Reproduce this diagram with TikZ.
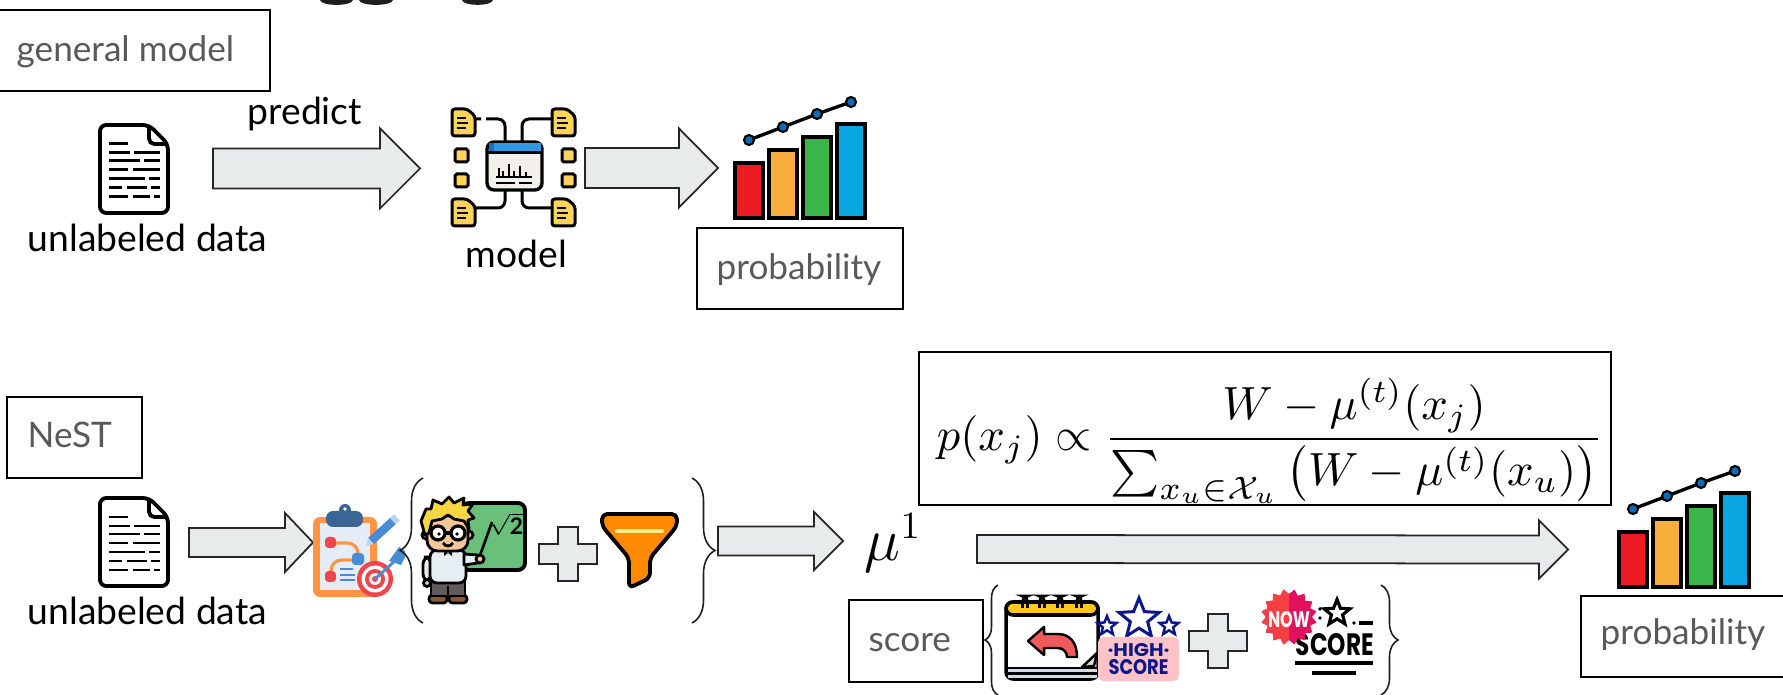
\documentclass[tikz,border=0pt]{standalone}
\usepackage{fontspec}
\setmainfont{Lato}
\newfontfamily\badgefont{Poppins}
\usepackage{amsmath}
\usepackage{graphicx}
\usetikzlibrary{calc,decorations.pathreplacing,shapes.geometric}

\definecolor{arrowfill}{HTML}{E8EBEB}
\definecolor{arrowline}{HTML}{262626}
\definecolor{tagtext}{HTML}{595959}
\definecolor{barred}{HTML}{ED1C24}
\definecolor{barorange}{HTML}{F8AE3C}
\definecolor{bargreen}{HTML}{3AB54A}
\definecolor{barblue}{HTML}{09A6E2}
\definecolor{dotblue}{HTML}{0B6DB7}
\definecolor{docyellow}{HTML}{FFD25A}
\definecolor{winblue}{HTML}{2E9BE6}
\definecolor{windark}{HTML}{1A6FC4}
\definecolor{winbody}{HTML}{F3EFEA}
\definecolor{boardorange}{HTML}{FF9446}
\definecolor{paperblue}{HTML}{E4EDF7}
\definecolor{clipblue}{HTML}{3A6695}
\definecolor{iconred}{HTML}{F0454A}
\definecolor{iconblue}{HTML}{4A8BD6}
\definecolor{pencillight}{HTML}{B9D3F0}
\definecolor{chalkgreen}{HTML}{6ABF7B}
\definecolor{hairyellow}{HTML}{F6D743}
\definecolor{skin}{HTML}{F6C796}
\definecolor{shirt}{HTML}{E6EEF2}
\definecolor{pants}{HTML}{615B5F}
\definecolor{shoe}{HTML}{8B5A3C}
\definecolor{funnel}{HTML}{FF8A00}
\definecolor{funnellight}{HTML}{FFE98A}
\definecolor{calyellow}{HTML}{FFC81E}
\definecolor{calgray}{HTML}{D5DAE0}
\definecolor{arrowred}{HTML}{F05A5A}
\definecolor{navy}{HTML}{0B168C}
\definecolor{pinkbox}{HTML}{FFC2C6}
\definecolor{sealred}{HTML}{F63E45}
\definecolor{sealpink}{HTML}{E0115F}
\definecolor{ink}{HTML}{1E1E1E}

% block arrow: start, tip, shaft half height, head half height, head length
\newcommand{\blockarrow}[5]{%
  \draw[blockarrow] ($(#1)+(0,-#3)$) -- ($(#2)+(-#5,-#3)$) -- ($(#2)+(-#5,-#4)$) -- (#2)
    -- ($(#2)+(-#5,#4)$) -- ($(#2)+(-#5,#3)$) -- ($(#1)+(0,#3)$) -- cycle;}

\tikzset{
  lbl/.style={font=\fontsize{10.6pt}{12pt}\selectfont, inner sep=0pt, text=black},
  tagtxt/.style={font=\fontsize{10pt}{12pt}\selectfont, inner sep=0pt, text=tagtext},
  tagbox/.style={draw=black, line width=0.45pt, inner sep=0pt},
  blockarrow/.style={draw=arrowline, fill=arrowfill, line width=0.5pt, line join=miter},
  bracket/.style={draw=ink, line width=0.45pt, decorate},
  outline/.style={draw=black, line width=1.1pt, line join=round},
  % page with text lines
  docicon/.pic={
    \draw[black, line width=1.1pt, fill=white, rounded corners=1.8pt]
      (0,0) -- (49,0) -- (68,19) -- (68,88) -- (0,88) -- cycle;
    \draw[black, line width=1.1pt, rounded corners=1.5pt] (49,0) -- (49,19) -- (68,19);
    \draw[black, line width=0.85pt]
      (9,19) -- (28,19)
      (9,28) -- (30,28) (34,28) -- (60,28)
      (9,36) -- (40,36) (44,36) -- (60,36)
      (9,45) -- (28,45) (33,45) -- (60,45)
      (9,54) -- (45,54) (49,54) -- (60,54)
      (9,63) -- (22,63) (27,63) -- (47,63) (51,63) -- (60,63)
      (9,72) -- (28,72) (33,72) -- (50,72) (54,72) -- (60,72);
  },
  % model: window with chart, linked to documents
  modelicon/.pic={
    \draw[black, line width=0.85pt, rounded corners=2pt]
      (23,11) -- (29,11)  (34,11) -- (53,11) -- (53,34)
      (100,11) -- (70,11) -- (70,34)
      (53,82) -- (53,100) -- (23,100)
      (70,82) -- (70,100) -- (100,100);
    \draw[black, line width=0.95pt, fill=winbody, rounded corners=2pt] (35,34) rectangle (90,82);
    \fill[winblue] (36.5,35.5) rectangle (88.5,44);
    \fill[windark] (36.5,35.5) rectangle (42,44);
    \draw[black, line width=0.85pt] (35,44.5) -- (90,44.5);
    \draw[black, line width=0.8pt] (44,69) -- (80,69)
      (47,69) -- (47,60) (51,69) -- (51,63) (57,69) -- (57,56) (62,69) -- (62,63)
      (68,69) -- (68,58) (74,69) -- (74,64)
      (44,75) -- (63,75) (67,75) -- (80,75);
    \foreach \dx/\dy in {0/1, 100/1, 0/91, 100/91}{
      \draw[black, line width=0.85pt, fill=docyellow, rounded corners=0.8pt, shift={(\dx,\dy)}]
        (0,0) -- (15,0) -- (23,7) -- (23,27) -- (0,27) -- cycle;
      \draw[black, line width=0.75pt, shift={(\dx,\dy)}]
        (5,9) -- (14,9) (5,14) -- (16,14) (5,19) -- (14,19);
    }
    \foreach \dx/\dy in {3/41, 3/66, 110/41, 110/66}{
      \draw[black, line width=0.85pt, fill=docyellow, rounded corners=0.5pt] (\dx,\dy) rectangle ++(13,13);
    }
  },
  % rising bar chart
  barchart/.pic={
    \foreach \i/\h/\c in {0/55/barred, 1/68/barorange, 2/81/bargreen, 3/94/barblue}
      \draw[black, line width=0.95pt, fill=\c] ({34*\i},0) rectangle ({34*\i+28},-\h);
    \draw[black, line width=0.95pt] (14,-78) -- (48,-91) -- (82,-104) -- (116,-116);
    \foreach \p in {(14,-78),(48,-91),(82,-104),(116,-116)}
      \draw[black, line width=0.6pt, fill=dotblue] \p circle[radius=5];
  },
  % clipboard with plan and target
  clipicon/.pic={
    \fill[boardorange, rounded corners=2pt] (0,14) rectangle (64,94);
    \fill[paperblue] (7,20) rectangle (57,87);
    \fill[clipblue, rounded corners=2pt] (13,8) rectangle (50,24);
    \fill[clipblue] (32,7) circle[radius=6];
    \fill[white] (32,6) circle[radius=1.8];
    \draw[boardorange, line width=0.9pt, rounded corners=3pt] (22,40) -- (45,40) -- (45,52);
    \draw[boardorange, line width=0.9pt, rounded corners=3pt] (40,57) -- (18,57) -- (18,70);
    \fill[iconred, rounded corners=1pt] (12,34) rectangle (23,45);
    \fill[iconred, rounded corners=1pt] (12,68) rectangle (23,79);
    \fill[iconblue, rounded corners=1pt] (39,50) rectangle (51,62);
    \draw[iconblue, line width=0.6pt] (27,66) -- (40,66) (27,72) -- (42,72) (27,77) -- (42,77);
    \fill[iconred] (62,76) circle[radius=18];
    \fill[white] (62,76) circle[radius=13.5];
    \fill[iconred] (62,76) circle[radius=10];
    \fill[paperblue] (62,76) circle[radius=6];
    \fill[iconred] (62,76) circle[radius=3];
    \draw[iconblue, line width=0.8pt] (62,76) -- (84,56);
    \fill[iconblue] (76,58) -- (86,44) -- (92,48) -- (92,54) -- (88,62) -- cycle;
    \draw[iconblue, line width=2.4pt] (58,38) -- (80,18);
    \draw[pencillight, line width=2.4pt] (80,18) -- (84,14.4);
    \fill[pencillight] (53,43) -- (60.7,41) -- (55.3,35) -- cycle;
  },
  % teacher at the chalkboard
  teachericon/.pic={
    \draw[black, line width=1.1pt, fill=chalkgreen, rounded corners=2pt] (44,6) rectangle (107,73);
    \node[inner sep=0pt] at (88,27) {\fontsize{6.5pt}{7pt}\selectfont$\sqrt{\mathbf{2}}$};
    \draw[black, line width=0.75pt] (60,64) -- (74,25);
    \draw[black, line width=0.8pt, fill=shoe, rounded corners=1pt] (11,98) rectangle (29,106);
    \draw[black, line width=0.8pt, fill=shoe, rounded corners=1pt] (31,98) rectangle (49,106);
    \draw[black, line width=0.8pt, fill=pants] (13,84) rectangle (47,99);
    \draw[black, line width=0.8pt] (30,89) -- (30,99);
    \draw[black, line width=0.8pt, fill=shirt, rounded corners=2pt] (5,60) rectangle (13,84);
    \draw[black, line width=0.8pt, fill=skin] (9,86) circle[radius=3.5];
    \draw[black, line width=0.8pt, fill=shirt, rounded corners=2pt] (12,53) rectangle (48,86);
    \draw[black, line width=0.8pt, fill=shirt, line join=round] (46,57) -- (60,58) -- (60,66) -- (46,68) -- cycle;
    \draw[black, line width=0.8pt, fill=skin] (62,62) circle[radius=4];
    \fill[black] (26,53) -- (30,56) -- (26,59) -- cycle (34,53) -- (30,56) -- (34,59) -- cycle;
    \draw[black, line width=0.8pt, fill=skin] (8,38) circle[radius=4];
    \draw[black, line width=0.8pt, fill=skin] (51,38) circle[radius=4];
    \draw[black, line width=0.8pt, fill=skin, rounded corners=3pt] (9,18) rectangle (50,54);
    \draw[black, line width=0.8pt, fill=hairyellow, line join=round]
      (7,38) -- (3,24) -- (8,12) -- (13,12) -- (15,3) -- (24,7) -- (31,0) -- (36,6) -- (46,1)
      -- (45,8) -- (55,7) -- (50,14) -- (56,21) -- (50,23) -- (51,32) -- (46,24) -- (36,22)
      -- (30,18) -- (24,22) -- (14,24) -- (11,36) -- cycle;
    \draw[black, line width=0.9pt, fill=white] (20,36) circle[radius=7] (40,36) circle[radius=7];
    \draw[black, line width=0.9pt] (27,36) -- (33,36);
    \fill[black] (21,37) circle[radius=1.8] (39,37) circle[radius=1.8];
    \draw[black, line width=0.8pt] (25,46) .. controls (28,50) and (32,50) .. (35,46);
  },
  % light cross
  plussign/.pic={
    \draw[blockarrow] (-10,-27) -- (10,-27) -- (10,-10) -- (29,-10) -- (29,10) -- (10,10)
      -- (10,27) -- (-10,27) -- (-10,10) -- (-29,10) -- (-29,-10) -- (-10,-10) -- cycle;
  },
  % calendar with return arrow
  calicon/.pic={
    \draw[black, line width=1pt, fill=white, rounded corners=2pt] (0,7) rectangle (92,84);
    \fill[calgray] (1.5,73) rectangle (90.5,82.5);
    \draw[black, line width=0.7pt] (0,73) -- (92,73) (0,78.5) -- (92,78.5);
    \draw[black, line width=1pt, fill=calyellow, rounded corners=2pt] (0,7) -- (0,20) -- (92,20) -- (92,7) -- cycle;
    \foreach \rx in {19,36,54,73}
      \draw[black, line width=0.8pt, rounded corners=1.5pt] (\rx-2.5,13) -- (\rx-2.5,1) -- (\rx+2.5,1) -- (\rx+2.5,13);
    \draw[black, line width=0.7pt, fill=arrowred, line join=round]
      (22,46) -- (38,32) -- (38,39) -- (52,39) .. controls (64,39) and (71,48) .. (71,62)
      -- (61,62) .. controls (61,57) and (57,53) .. (52,53) -- (38,53) -- (38,60) -- cycle;
    \draw[black, line width=0.7pt, fill=calgray, line join=round] (76,72) -- (91,58) -- (88,71) -- cycle;
  },
}

% jagged seal outline around the origin
\newcommand{\sealshape}{(0:23) \foreach \k in {1,...,31} { -- ({\k*11.25}:{25.5-2.5*cos(\k*180)}) } -- cycle}

\begin{document}
\begin{tikzpicture}[x=0.01cm, y=-0.01cm]
\useasboundingbox (0,0) rectangle (1783,695);
\clip (0,0) rectangle (1783,695);

% descenders of the heading running above the top edge
\fill[ink] (320,0) .. controls (321,6.5) and (352,6.5) .. (353,0) -- cycle;
\fill[ink] (359,0) .. controls (360,6.5) and (392,6.5) .. (393,0) -- cycle;
\fill[ink] (462,0) .. controls (463,6.5) and (492,6.5) .. (493,0) -- cycle;

%% ---------- general model ----------
\node[tagbox, minimum width=2.73cm, minimum height=0.81cm] (gm) at (133.5,50.5) {};
\node[tagtxt, anchor=base west] (gmtext) at (16,62) {general model};

\pic at (100,125) {docicon};
\node[lbl, anchor=base west] (data1) at (27,252) {unlabeled data};

\coordinate (a1s) at (213,168.5);
\coordinate (a1e) at (420,168.5);
\blockarrow{a1s}{a1e}{20}{40}{40}
\node[lbl, anchor=base west] (predict) at (247,125) {predict};

\pic at (452,108) {modelicon};
\node[lbl, anchor=base west] (model) at (465,268) {model};

\coordinate (a2s) at (585,168);
\coordinate (a2e) at (718,168);
\blockarrow{a2s}{a2e}{20}{39.5}{39}

\pic at (735,218) {barchart};
\node[tagbox, minimum width=2.06cm, minimum height=0.81cm] (prob1) at (800,268.5) {};
\node[tagtxt, anchor=base west] (prob1text) at (716,280) {probability};

%% ---------- NeST ----------
\node[tagbox, minimum width=1.35cm, minimum height=0.81cm] (nest) at (74.5,437.5) {};
\node[tagtxt, anchor=base west] (nesttext) at (27,448) {NeST};

\pic at (100,498) {docicon};
\node[lbl, anchor=base west] (data2) at (27,624) {unlabeled data};

\coordinate (a3s) at (189,542.5);
\coordinate (a3e) at (313,542.5);
\blockarrow{a3s}{a3e}{14.5}{29.5}{28}

\pic at (313,503) {clipicon};

\draw[bracket, decoration={brace, amplitude=0.23cm}] (423,623) -- (423,478);
\pic at (418,497) {teachericon};
\pic at (568,554) {plussign};
% funnel
\draw[outline, fill=funnel, rounded corners=1.5pt]
  (602,514) -- (677,514) -- (677,526) -- (650,558) -- (650,578) -- (629,588) -- (629,558) -- (602,526) -- cycle;
\draw[funnellight, line width=1.2pt, line cap=round] (617,531) -- (662,531);
\draw[bracket, decoration={brace, amplitude=0.23cm}] (692,478) -- (692,623);

\coordinate (a4s) at (718,541);
\coordinate (a4e) at (843,541);
\blockarrow{a4s}{a4e}{14.5}{29}{29}

\node[inner sep=0pt, anchor=base west] (mu) at (864,561) {\fontsize{16pt}{18pt}\selectfont$\mu^1$};

% sampling weight
\node[tagbox, minimum width=6.92cm, minimum height=1.53cm] (fbox) at (1265,428.5) {};
\node[inner sep=0pt] (formula) at (1270,441)
  {\resizebox{6.66cm}{!}{$\displaystyle p(x_j) \propto \frac{W-\mu^{(t)}(x_j)}{\sum_{x_u\in\mathcal{X}_u}\left(W-\mu^{(t)}(x_u)\right)}$}};

\coordinate (a5s) at (977,549);
\coordinate (a5e) at (1568,549.5);
\blockarrow{a5s}{a5e}{14}{29}{29}

% score
\node[tagbox, minimum width=1.34cm, minimum height=0.82cm] (score) at (916,641) {};
\node[tagtxt, anchor=base west] (scoretext) at (868,652) {score};

\draw[bracket, decoration={brace, amplitude=0.13cm}] (998,695) -- (998,585);
\pic at (1006,595) {calicon};

% high score badge
\node[star, star points=5, star point ratio=2.3, draw=navy, fill=white, line width=0.85pt, minimum size=0.42cm, inner sep=0pt] (bigstar) at (1139,619) {};
\node[star, star points=5, star point ratio=2.3, draw=navy, fill=white, line width=0.7pt, minimum size=0.2cm, inner sep=0pt] (lstar) at (1107,626) {};
\node[star, star points=5, star point ratio=2.3, draw=navy, fill=white, line width=0.7pt, minimum size=0.2cm, inner sep=0pt] (rstar) at (1169,626) {};
\fill[pinkbox, rounded corners=1.5pt] (1098,637) rectangle (1179,681);
\node[inner sep=0pt, text=navy] (high) at (1138.5,650.5) {\resizebox{0.62cm}{0.13cm}{\badgefont\bfseries ·HIGH·}};
\node[inner sep=0pt, text=navy] (highscore) at (1138.5,667.5) {\resizebox{0.6cm}{0.15cm}{\badgefont\bfseries SCORE}};

\pic at (1218,641) {plussign};

% new score badge
\node[inner sep=0pt, text=black, anchor=north west] (newscore) at (1295,633) {\resizebox{0.78cm}{0.22cm}{\badgefont\bfseries SCORE}};
\draw[black, line width=1.2pt] (1295,663) -- (1373,663);
\draw[black, line width=1.2pt] (1312,673) -- (1356,673);
\node[star, star points=5, star point ratio=2.3, draw=black, line width=0.9pt, minimum size=0.27cm, inner sep=0pt] (nstar) at (1337,613) {};
\fill[black] (1320,609) circle[radius=1.8] (1320,618) circle[radius=1.8] (1354,623) circle[radius=1.8];
\draw[black, line width=1.1pt] (1359,623) -- (1373,623);
\begin{scope}[shift={(1289,617)}]
  \fill[sealpink] \sealshape;
  \begin{scope}
    \clip (-40,-40) rectangle (0,40);
    \fill[sealred] \sealshape;
  \end{scope}
\end{scope}
\node[inner sep=0pt, text=white] (now) at (1289,619.5) {\resizebox{0.42cm}{0.16cm}{\badgefont\bfseries NOW}};
\draw[bracket, decoration={brace, amplitude=0.17cm}] (1381,585) -- (1381,695);

% final probabilities
\pic at (1619,587) {barchart};
\node[tagbox, minimum width=2.06cm, minimum height=0.81cm] (prob2) at (1684,636.5) {};
\node[tagtxt, anchor=base west] (prob2text) at (1600,645) {probability};

\end{tikzpicture}
\end{document}
